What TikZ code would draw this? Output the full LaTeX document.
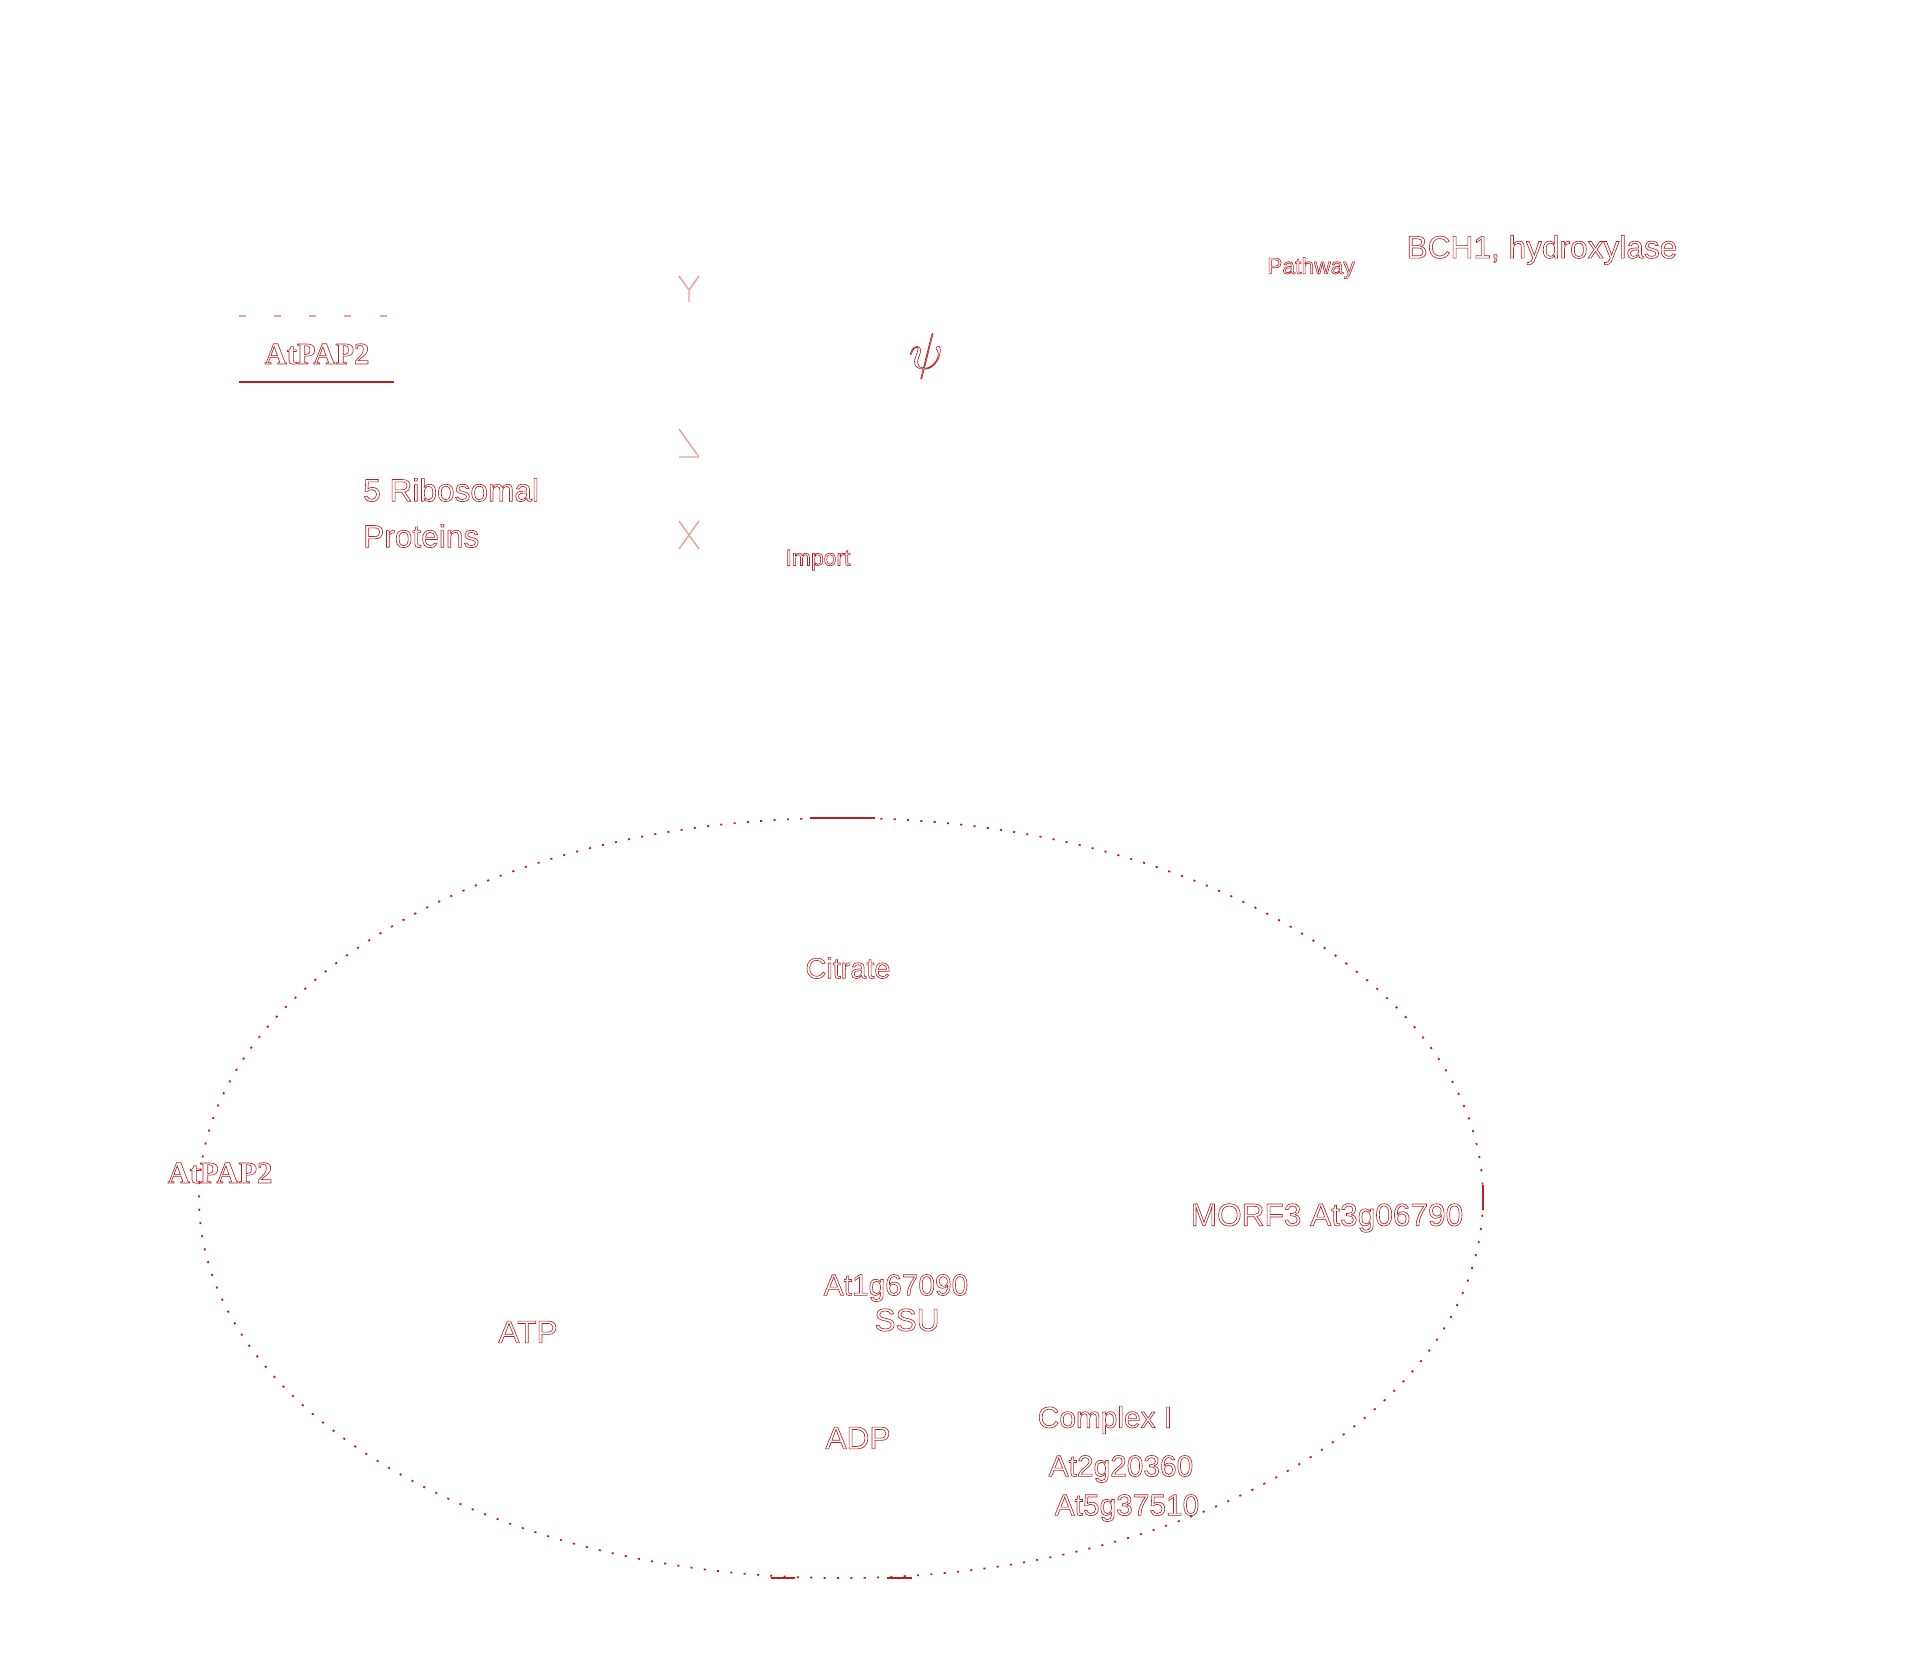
\documentclass[tikz,border=0pt]{standalone}
\usepackage{fontspec}
\setmainfont{Liberation Sans}
\newfontfamily\serifbf{Liberation Serif}
\usepackage{xcolor}
\usetikzlibrary{calc}
\definecolor{red}{HTML}{B22222}
\definecolor{pale}{HTML}{E8A0A0}
\newcommand\hollow[1]{\special{pdf:literal direct 1 Tr 0.18 w}#1\special{pdf:literal direct 0 Tr}}
\tikzset{
  ring/.style={draw=red, line width=0.5pt, dash pattern=on 0.6pt off 3.2pt},
  seg/.style={draw=red, line width=0.8pt},
  tick/.style={draw=pale, line width=0.4pt},
  lbl/.style={text=red, font=\fontsize{9}{10}\selectfont, inner sep=1pt},
  slbl/.style={text=red, font=\fontsize{6.5}{7}\selectfont, inner sep=1pt},
  glbl/.style={text=red, font=\serifbf\bfseries\fontsize{8.7}{10}\selectfont, inner sep=1pt}
}
\begin{document}
\begin{tikzpicture}
  \useasboundingbox (0,0) rectangle (19.10,16.53);
  \fill[white] (0,0) rectangle (19.10,16.53);

  % box top left
  \node[glbl] (pap) at (3.17,12.99) {\hollow{AtPAP2}};
  \draw[draw=pale, line width=0.4pt, dash pattern=on 2pt off 8pt] (2.39,13.37) -- (3.94,13.37);
  \draw[seg] (2.39,12.71) -- (3.94,12.71);

  \node[lbl, anchor=west] (ribo) at (3.59,11.63) {\hollow{5 Ribosomal}};
  \node[lbl, anchor=west] (prot) at (3.59,11.17) {\hollow{Proteins}};

  % small crossing marks
  \coordinate (m1) at (6.89,13.63);
  \coordinate (m2) at (6.89,12.10);
  \coordinate (m3) at (6.89,11.18);
  \draw[tick] ($(m1)+(-0.1,0.14)$) -- (m1) -- ($(m1)+(0.1,0.14)$) (m1) -- ($(m1)+(0,-0.12)$);
  \draw[tick] ($(m2)+(-0.1,0.14)$) -- ($(m2)+(0.1,-0.14)$) ($(m2)+(0.1,-0.14)$) -- ($(m2)+(-0.1,-0.14)$);
  \draw[tick] ($(m3)+(-0.1,0.14)$) -- ($(m3)+(0.1,-0.14)$) ($(m3)+(0.1,0.14)$) -- ($(m3)+(-0.1,-0.14)$);

  \node[text=red, font=\fontsize{14}{14}\selectfont, inner sep=0pt] (psi) at (9.26,12.97) {\hollow{$\psi$}};
  \node[slbl] (imp) at (8.18,10.93) {\hollow{Import}};

  % top right
  \node[slbl] (path) at (13.11,13.85) {\hollow{Pathway}};
  \node[lbl] (bch) at (15.42,14.03) {\hollow{BCH1, hydroxylase}};

  % cycle
  \coordinate (C) at (8.41,4.55);
  \draw[ring] (C) ellipse (6.42 and 3.80);
  \draw[seg] (8.10,8.35) -- (8.75,8.35);
  \draw[seg] (7.71,0.75) -- (7.95,0.75);
  \draw[seg] (8.87,0.75) -- (9.12,0.75);
  \draw[seg] (14.83,4.68) -- (14.83,4.43);

  \node[glbl] (pap2) at (2.20,4.80) {\hollow{AtPAP2}};
  \node[lbl, font=\fontsize{8.2}{10}\selectfont] (cit) at (8.48,6.85) {\hollow{Citrate}};
  \node[lbl] (morf) at (13.27,4.35) {\hollow{MORF3 At3g06790}};
  \node[lbl, font=\fontsize{8.5}{10}\selectfont] (gene) at (8.96,3.65) {\hollow{At1g67090}};
  \node[lbl] (ssu) at (9.07,3.33) {\hollow{SSU}};
  \node[lbl] (atp) at (5.28,3.21) {\hollow{ATP}};
  \node[lbl] (adp) at (8.58,2.15) {\hollow{ADP}};
  \node[lbl, font=\fontsize{8.5}{10}\selectfont] (cpx) at (11.05,2.33) {\hollow{Complex I}};
  \node[lbl, font=\fontsize{8.5}{10}\selectfont] (g1) at (11.21,1.84) {\hollow{At2g20360}};
  \node[lbl, font=\fontsize{8.5}{10}\selectfont] (g2) at (11.27,1.45) {\hollow{At5g37510}};
\end{tikzpicture}
\end{document}
